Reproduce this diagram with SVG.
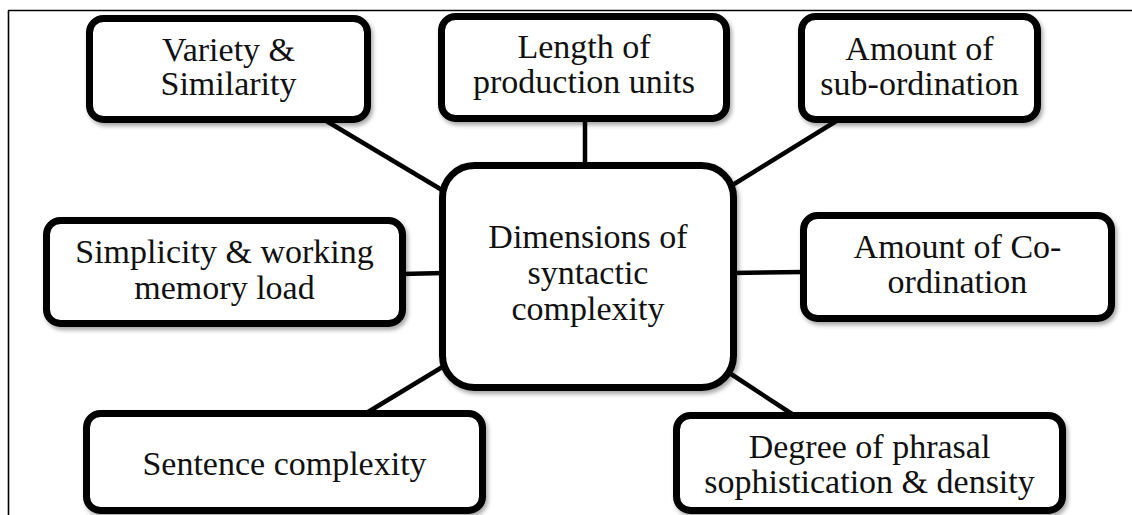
<svg xmlns="http://www.w3.org/2000/svg" width="1132" height="515" viewBox="0 0 1132 515">
  <defs>
    <filter id="shadow" x="-10%" y="-10%" width="120%" height="130%">
      <feDropShadow dx="2" dy="3" stdDeviation="2" flood-color="#000" flood-opacity="0.35"/>
    </filter>
  </defs>
  <style>
    .frame { stroke: #000; stroke-width: 1.6; fill: none; }
    .link { stroke: #000; stroke-width: 4.5; fill: none; }
    .box { fill: #fff; stroke: #000; stroke-width: 7; filter: url(#shadow); }
    .label { font-family: "Liberation Serif", "Times New Roman", serif; font-size: 34px; fill: #111; text-anchor: middle; }
  </style>

  <rect width="1132" height="515" fill="#fff"/>

  <!-- page frame -->
  <g id="frame">
    <line class="frame" x1="8.5" y1="10.5" x2="8.5" y2="515"/>
    <line class="frame" x1="8" y1="10.5" x2="1132" y2="10.5"/>
  </g>

  <!-- connectors from the central node -->
  <g id="connectors">
    <line class="link" x1="318" y1="116" x2="442" y2="190"/>
    <line class="link" x1="585" y1="118" x2="585" y2="166"/>
    <line class="link" x1="838" y1="120" x2="731" y2="186"/>
    <line class="link" x1="402" y1="274" x2="444" y2="273"/>
    <line class="link" x1="733" y1="273" x2="804" y2="272"/>
    <line class="link" x1="368" y1="412" x2="444" y2="366"/>
    <line class="link" x1="731" y1="374" x2="792" y2="414"/>
  </g>

  <g id="center">
    <rect class="box" x="442.5" y="165.5" width="291" height="222" rx="32"/>
    <text class="label" x="588" y="248">Dimensions of</text>
    <text class="label" x="588" y="284">syntactic</text>
    <text class="label" x="588" y="320">complexity</text>
  </g>

  <g id="variety">
    <rect class="box" x="89.5" y="18.5" width="278" height="101" rx="14"/>
    <text class="label" x="228.5" y="61">Variety &amp;</text>
    <text class="label" x="228.5" y="95">Similarity</text>
  </g>

  <g id="length">
    <rect class="box" x="441.5" y="16.5" width="285" height="102" rx="14"/>
    <text class="label" x="584" y="58">Length of</text>
    <text class="label" x="584" y="93">production units</text>
  </g>

  <g id="subordination">
    <rect class="box" x="801.5" y="16.5" width="236" height="103" rx="14"/>
    <text class="label" x="919.5" y="60">Amount of</text>
    <text class="label" x="919.5" y="95">sub-ordination</text>
  </g>

  <g id="simplicity">
    <rect class="box" x="46.5" y="220.5" width="356" height="103" rx="14"/>
    <text class="label" x="224.5" y="263">Simplicity &amp; working</text>
    <text class="label" x="224.5" y="299">memory load</text>
  </g>

  <g id="coordination">
    <rect class="box" x="803.5" y="215.5" width="308" height="103" rx="14"/>
    <text class="label" x="957.5" y="258">Amount of Co-</text>
    <text class="label" x="957.5" y="293">ordination</text>
  </g>

  <g id="sentence">
    <rect class="box" x="86.5" y="413.5" width="396" height="97" rx="14"/>
    <text class="label" x="284.5" y="475">Sentence complexity</text>
  </g>

  <g id="phrasal">
    <rect class="box" x="676.5" y="415.5" width="386" height="95" rx="14"/>
    <text class="label" x="869.5" y="458">Degree of phrasal</text>
    <text class="label" x="869.5" y="493">sophistication &amp; density</text>
  </g>
</svg>
